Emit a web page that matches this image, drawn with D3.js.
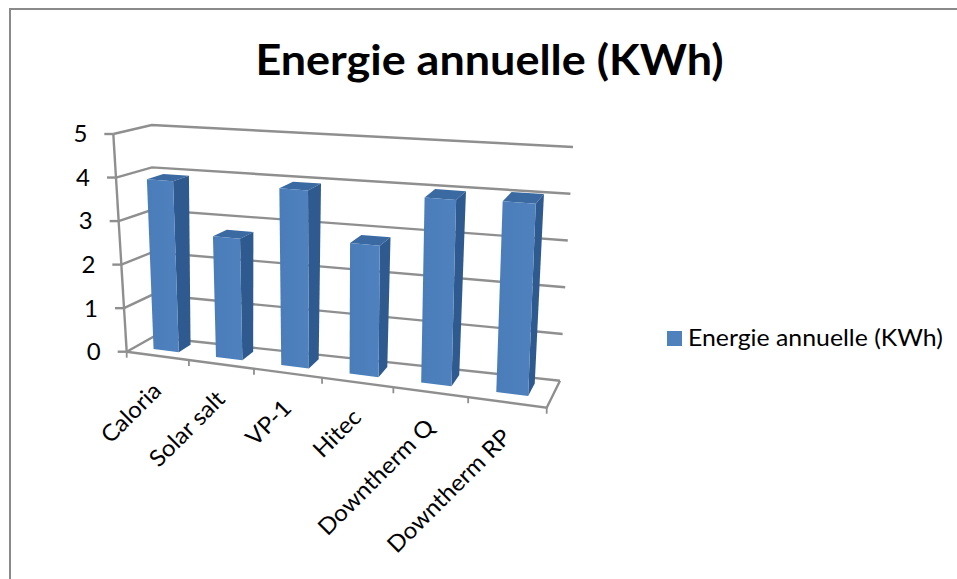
<!DOCTYPE html>
<html><head><meta charset="utf-8">
<style>html,body{margin:0;padding:0;background:#fff}svg{display:block}text{font-family:Lato,"Open Sans",sans-serif;fill:#000}</style>
<script src="https://cdn.jsdelivr.net/npm/d3@7/dist/d3.min.js"></script>
</head><body><svg id="c" width="957" height="579"></svg>
<script>
const categories = ["Caloria","Solar salt","VP-1","Hitec","Downtherm Q","Downtherm RP"];
const values = [3.92,2.74,3.95,2.87,4.0,4.05];
const valueTicks = [0,1,2,3,4,5];
const seriesName = "Energie annuelle (KWh)";
const chartTitle = "Energie annuelle (KWh)";

const svg = d3.select("#c");
const defs = svg.append("defs");
defs.append("filter").attr("id","soft").append("feGaussianBlur").attr("stdDeviation",0.5);
const gradient = defs.append("linearGradient").attr("id","face");
gradient.append("stop").attr("offset",0).attr("stop-color","#4a7dba");
gradient.append("stop").attr("offset",1).attr("stop-color","#4f81bd");

// 3D box corners mapped through d3 scales: front/back edges at the floor and at the top
const k = 1.15;
const persp = t => t/(t+k*(1-t));
const uScale = d3.scaleLinear().domain([0,categories.length]).range([0,1]);
const edge = (a,b) => d3.scaleLinear().domain([0,1]).range([a,b]);
const floorFront = edge([126.7,351.7],[546.7,407.7]);
const floorBack  = edge([153,337],[560,380.7]);
const topFront   = edge([113.3,134],[556,167]);
const topBack    = edge([151.7,125],[573,147]);
const vScale = d3.scaleLinear().domain([0,5]).range([0,1]);
const lerp = (a,b,t)=>[a[0]+(b[0]-a[0])*t,a[1]+(b[1]-a[1])*t];
function P(u,d,v){
  const f = persp(uScale(u)), t = vScale(v);
  const lo = lerp(floorFront(f),floorBack(f),d);
  const hi = lerp(topFront(f),topBack(f),d);
  return lerp(lo,hi,t);
}
const line = d3.line();
const grid = "#8f8f8f";
const g = svg.append("g").attr("filter","url(#soft)");
const stroke = (pts,w=2.4)=>g.append("path").attr("d",line(pts)).attr("fill","none").attr("stroke",grid).attr("stroke-width",w);
const N = categories.length;

// border
svg.append("path").attr("d","M10 579V9H957").attr("fill","none").attr("stroke","#8a8a8a").attr("stroke-width",2);

// back wall + side wall gridlines
valueTicks.forEach(v=>{
  const front=P(0,0,v);
  stroke([P(N,1,v),P(0,1,v),front]);
  stroke([[front[0]-9,front[1]],front]);
});
// left axis and floor
stroke([P(0,0,0),P(0,0,5)]);
stroke([P(0,0,0),P(N,0,0),P(N,1,0)]);
d3.range(0,N+1).forEach(i=>{const p=P(i,0,0);stroke([p,[p[0],p[1]+6]],1.8);});

// bars
const d0=0.33,d1=0.8,w0=0.3,w1=0.71;
const blue="#4f81bd",sideCol="#2f5a8f",topCol="#3a6aa3";
const bars=svg.append("g").attr("filter","url(#soft)");
values.forEach((val,i)=>{
  const a=i+w0,b=i+w1;
  bars.append("path").attr("d",line([P(a,d0,val),P(b,d0,val),P(b,d1,val),P(a,d1,val)])+"Z").attr("fill",topCol);
  bars.append("path").attr("d",line([P(b,d0,0),P(b,d0,val),P(b,d1,val),P(b,d1,0)])+"Z").attr("fill",sideCol);
  bars.append("path").attr("d",line([P(a,d0,0),P(a,d0,val),P(b,d0,val),P(b,d0,0)])+"Z").attr("fill","url(#face)");
});

// value labels
valueTicks.forEach(v=>{
  const p=P(0,0,v);
  svg.append("text").attr("x",p[0]-26).attr("y",p[1]).attr("dy","0.35em").attr("text-anchor","end").attr("font-size",24).text(v);
});
// category labels
categories.forEach((c,i)=>{
  const p=P(i+0.5,0,0);
  svg.append("text").attr("transform",`translate(${p[0]-6},${p[1]+25}) rotate(-45) scale(1.05,1)`).attr("text-anchor","end").attr("font-size",23).attr("dy","0.7em").text(c);
});
// title
svg.append("text").attr("transform","translate(489.5,75) scale(1.07,1)").attr("text-anchor","middle").attr("font-size",42).attr("font-weight",700).text(chartTitle);
// legend
svg.append("rect").attr("x",667).attr("y",331).attr("width",15).attr("height",15).attr("fill",blue);
svg.append("text").attr("transform","translate(688,346) scale(1.08,1)").attr("font-size",23).text(seriesName);
</script></body></html>
